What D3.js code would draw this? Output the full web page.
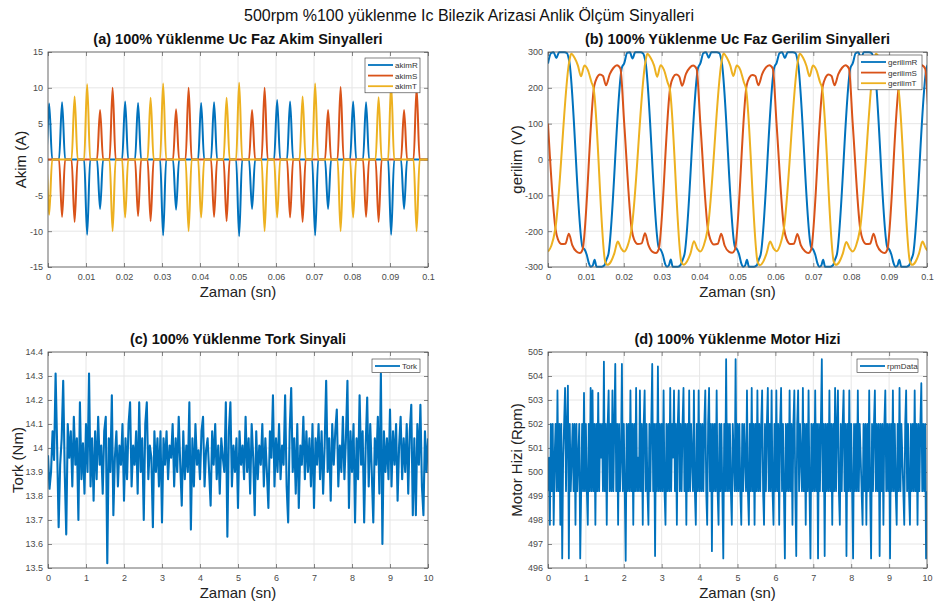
<!DOCTYPE html>
<html>
<head>
  <meta charset="utf-8">
  <style>
    body { margin: 0; background: #fff; }
    svg { font-family: "Liberation Sans", Arial, sans-serif; }
    .grid { stroke: #e6e6e6; stroke-width: 1; }
    .axis path.domain { display: none; }
    .axis line { stroke: #555; stroke-width: 0.7; }
    .axis text { fill: #4a4a4a; font-size: 9px; font-family: "Liberation Sans", Arial, sans-serif; }
    .frame { fill: none; stroke: #555; stroke-width: 0.8; }
    .ptitle { font-weight: bold; font-size: 14.5px; fill: #111; text-anchor: middle; }
    .alabel { font-size: 15px; fill: #222; text-anchor: middle; }
    .leg text { font-size: 8px; fill: #333; }
  </style>
</head>
<body>
<svg id="chart" width="938" height="613"></svg>
<script src="https://d3js.org/d3.v7.min.js"></script>
<script>
// ---- ticks / labels ----
var fastTicksX = [0, 10, 20, 30, 40, 50, 60, 70, 80, 90, 100];   // ms
var fastTickLabelsX = ["0", "0.01", "0.02", "0.03", "0.04", "0.05", "0.06", "0.07", "0.08", "0.09", "0.1"];
var akimTicksY = [-15, -10, -5, 0, 5, 10, 15];
var gerilimTicksY = [-300, -200, -100, 0, 100, 200, 300];
var slowTicksX = [0, 1, 2, 3, 4, 5, 6, 7, 8, 9, 10];
var slowTickLabelsX = ["0", "1", "2", "3", "4", "5", "6", "7", "8", "9", "10"];
var torkTicksY = [13.5, 13.6, 13.7, 13.8, 13.9, 14.0, 14.1, 14.2, 14.3, 14.4];
var torkTickLabelsY = ["13.5", "13.6", "13.7", "13.8", "13.9", "14", "14.1", "14.2", "14.3", "14.4"];
var rpmTicksY = [496, 497, 498, 499, 500, 501, 502, 503, 504, 505];

// ---- (a) current pulses: [time ms, peak A] ----
var akimR = [[0.3,7.8],[3.7,8.0],[10.3,-10.5],[13.7,-6.9],[20.3,8.1],[23.7,7.9],[30.3,-10.6],[33.7,-7.0],[40.3,7.9],[43.7,8.0],
  [50.3,-10.7],[53.7,-6.9],[60.3,8.3],[63.7,8.1],[70.3,-10.6],[73.7,-6.9],[80.3,8.1],[83.7,8.0],[90.3,-10.5],[93.7,-6.9]];
var akimS = [[3.7,-8.0],[7.0,-8.7],[13.7,6.9],[17.0,10.0],[23.7,-7.9],[27.0,-8.6],[33.7,7.0],[37.0,10.0],[43.7,-8.0],[47.0,-8.6],
  [53.7,6.9],[57.0,10.0],[63.7,-8.1],[67.0,-8.7],[73.7,6.9],[77.0,10.1],[83.7,-8.0],[87.0,-8.7],[93.7,6.9],[97.0,10.0]];
var akimT = [[0.3,-7.7],[7.0,8.8],[10.3,10.5],[17.0,-10.0],[20.3,-8.1],[27.0,8.6],[30.3,10.6],[37.0,-10.0],[40.3,-8.1],[47.0,8.6],
  [50.3,10.7],[57.0,-10.0],[60.3,-8.1],[67.0,8.8],[70.3,10.6],[77.0,-10.0],[80.3,-8.1],[87.0,8.7],[90.3,10.5],[97.0,-10.0]];

// ---- (b) phase voltages: [time ms, V] ----
var gerilimR = [[0.0,268],[0.8,297],[1.5,299],[2.2,283],[2.9,299],[4.3,299],[5.0,297],[5.6,275],[9.1,-244],[9.7,-252],[10.2,-265],[10.8,-290],[11.3,-299],[11.8,-296],[12.3,-280],[12.8,-299],[14.2,-299],[14.9,-295],[15.4,-280],[15.9,-266],[19.5,257],
  [20.1,268],[20.9,298],[21.6,299],[22.3,282],[23.0,299],[24.4,299],[25.1,296],[25.7,274],[29.2,-245],[29.8,-253],[30.3,-266],[30.9,-291],[31.4,-299],[31.9,-295],[32.4,-279],[32.9,-299],[34.3,-299],[35.0,-294],[35.5,-281],[36.0,-265],[39.6,256],
  [40.2,268],[41.0,297],[41.7,299],[42.4,284],[43.1,299],[44.5,299],[45.2,297],[45.8,275],[49.3,-243],[49.9,-251],[50.4,-264],[51.0,-290],[51.5,-299],[52.0,-296],[52.5,-280],[53.0,-299],[54.4,-299],[55.1,-295],[55.6,-280],[56.1,-266],[59.7,257],
  [60.3,269],[61.1,297],[61.8,299],[62.5,283],[63.2,299],[64.6,299],[65.3,297],[65.9,274],[69.4,-244],[70.0,-252],[70.5,-265],[71.1,-290],[71.6,-299],[72.1,-296],[72.6,-280],[73.1,-299],[74.5,-299],[75.2,-295],[75.7,-280],[76.2,-266],[79.8,256],
  [80.4,268],[81.2,297],[81.9,299],[82.6,283],[83.3,299],[84.7,299],[85.4,297],[86.0,275],[89.5,-244],[90.1,-252],[90.6,-265],[91.2,-290],[91.7,-299],[92.2,-296],[92.7,-280],[93.2,-299],[94.6,-299],[95.3,-295],[95.8,-280],[96.3,-266],[99.9,257],[100.5,268]];
var gerilimS = [[0.0,100],[2.0,-195],[2.6,-222],[3.6,-236],[4.6,-235],[5.5,-207],[6.4,-239],[7.5,-257],[8.4,-261],[9.1,-252],[12.2,206],[12.9,228],[13.7,237],[14.5,233],[15.3,207],[16.3,238],[17.3,256],[18.2,263],[19.1,254],
  [20.1,102],[22.1,-196],[22.7,-223],[23.7,-236],[24.7,-234],[25.6,-206],[26.5,-239],[27.6,-258],[28.5,-261],[29.2,-251],[32.3,205],[33.0,229],[33.8,237],[34.6,232],[35.4,206],[36.4,239],[37.4,256],[38.3,262],[39.2,253],
  [40.2,100],[42.2,-195],[42.8,-222],[43.8,-237],[44.8,-235],[45.7,-207],[46.6,-240],[47.7,-257],[48.6,-260],[49.3,-252],[52.4,206],[53.1,228],[53.9,236],[54.7,233],[55.5,207],[56.5,238],[57.5,257],[58.4,263],[59.3,254],
  [60.3,101],[62.3,-194],[62.9,-221],[63.9,-236],[64.9,-235],[65.8,-208],[66.7,-239],[67.8,-256],[68.7,-261],[69.4,-252],[72.5,205],[73.2,228],[74.0,237],[74.8,233],[75.6,207],[76.6,238],[77.6,256],[78.5,263],[79.4,254],
  [80.4,100],[82.4,-195],[83.0,-222],[84.0,-236],[85.0,-235],[85.9,-207],[86.8,-239],[87.9,-257],[88.8,-261],[89.5,-252],[92.6,206],[93.3,228],[94.1,237],[94.9,233],[95.7,207],[96.7,238],[97.7,256],[98.6,263],[99.5,254],[100.5,100]];
var gerilimT = [[0.0,-257],[0.9,-240],[1.9,-196],[5.6,273],[6.1,295],[7.0,284],[7.9,262],[8.7,232],[9.6,262],[10.5,250],[11.5,215],[12.0,200],[15.1,-285],[15.7,-294],[16.6,-285],[17.5,-262],[18.4,-229],[19.3,-248],
  [20.1,-257],[21.0,-241],[22.0,-197],[25.7,272],[26.2,295],[27.1,283],[28.0,262],[28.8,231],[29.7,263],[30.6,250],[31.6,214],[32.1,199],[35.2,-286],[35.8,-294],[36.7,-284],[37.6,-262],[38.5,-228],[39.4,-249],
  [40.2,-257],[41.1,-240],[42.1,-196],[45.8,273],[46.3,296],[47.2,284],[48.1,262],[48.9,233],[49.8,262],[50.7,251],[51.7,215],[52.2,200],[55.3,-285],[55.9,-295],[56.8,-285],[57.7,-261],[58.6,-229],[59.5,-248],
  [60.3,-256],[61.2,-240],[62.2,-195],[65.9,273],[66.4,295],[67.3,284],[68.2,261],[69.0,232],[69.9,262],[70.8,250],[71.8,215],[72.3,201],[75.4,-285],[76.0,-294],[76.9,-285],[77.8,-262],[78.7,-230],[79.6,-248],
  [80.4,-257],[81.3,-240],[82.3,-196],[86.0,273],[86.5,295],[87.4,284],[88.3,262],[89.1,232],[90.0,262],[90.9,250],[91.9,215],[92.4,200],[95.5,-285],[96.1,-294],[97.0,-285],[97.9,-262],[98.8,-229],[99.7,-248],[100.5,-257]];

// ---- (c) torque, one sample every 0.04 s ----
var torkStep = 0.04;
var tork = [
  13.97,13.83,13.90,14.07,13.95,14.31,14.01,13.67,13.93,14.04,14.28,13.90,13.64,14.10,13.96,14.07,13.84,14.13,13.93,14.04,13.70,14.19,13.87,14.02,13.81,
  14.10,13.90,14.31,13.84,14.04,13.78,14.07,13.87,14.13,13.93,14.01,13.81,14.07,14.13,13.52,14.04,13.90,14.22,13.72,13.96,14.07,13.84,14.01,13.93,14.10,
  13.78,14.04,13.87,14.10,14.19,13.84,14.01,13.93,14.07,13.81,14.19,13.90,14.04,13.70,14.10,14.19,13.87,14.01,13.96,13.67,14.07,13.90,14.04,13.84,14.07,
  13.69,14.04,13.93,14.07,13.87,14.01,13.96,14.10,13.84,14.04,13.90,14.13,13.93,13.76,14.07,13.87,14.01,13.90,14.19,13.66,14.04,13.84,14.10,13.93,13.99,
  13.87,14.07,14.13,13.84,13.99,14.04,13.90,13.76,14.07,13.93,14.10,13.87,14.01,13.81,14.04,13.96,13.90,14.19,13.63,14.07,14.19,13.84,14.01,13.90,14.04,
  13.75,14.07,13.93,14.01,13.87,14.13,13.90,14.04,13.81,14.10,13.96,13.72,14.07,13.87,14.01,13.93,14.10,13.84,14.04,13.90,13.75,14.07,13.96,14.22,13.84,
  14.04,13.90,14.10,13.87,14.01,13.93,14.22,13.84,13.69,14.07,14.25,13.90,14.04,13.81,14.10,13.75,14.01,13.93,14.13,13.87,14.07,13.90,14.04,13.84,14.10,
  13.75,14.04,13.93,14.10,13.87,14.07,13.81,14.01,14.28,13.90,14.04,13.78,14.10,13.93,14.07,14.16,13.84,14.01,13.90,14.13,13.87,14.04,14.28,13.75,14.07,
  13.90,14.10,13.69,14.04,13.87,14.22,13.93,14.07,13.69,14.01,14.21,13.84,14.10,13.90,13.69,14.04,13.93,14.13,13.81,14.31,13.60,14.07,13.90,14.04,13.87,
  14.16,13.84,14.07,13.93,14.10,13.78,14.01,14.13,13.87,14.04,13.90,14.10,13.81,14.07,14.18,13.72,14.04,13.72,14.10,13.93,14.18,13.84,13.72,14.07,13.90,
  14.04];

// ---- (d) motor speed, one sample every 0.025 s ----
var rpmStep = 0.025;
var rpmData = [
  499.2,500.6,497.8,502.0,499.2,502.0,497.8,500.6,502.0,499.2,503.4,499.2,502.0,497.8,502.0,496.4,500.6,502.0,503.5,499.2,502.0,503.6,496.4,502.0,499.2,500.6,502.0,499.2,502.0,497.8,502.0,499.2,500.6,502.0,496.4,499.2,502.0,499.2,503.3,499.2,
  502.0,499.2,497.8,502.0,499.2,503.5,499.2,503.4,499.2,502.0,497.8,502.0,499.2,503.3,499.2,502.0,500.6,502.0,499.2,504.6,499.2,502.0,497.8,502.0,503.4,499.2,502.0,499.2,503.4,499.2,502.0,504.5,499.2,502.0,497.8,502.0,499.2,500.6,504.5,499.2,
  502.0,499.2,496.3,502.0,499.2,502.0,499.2,503.4,499.2,502.0,497.8,502.0,499.2,503.5,499.2,500.6,499.2,503.4,499.2,502.0,497.8,502.0,503.4,499.2,502.0,499.2,497.8,502.0,499.2,502.0,504.5,499.2,502.0,496.5,502.0,499.2,504.4,499.2,502.0,499.2,
  502.0,499.2,503.4,499.2,497.8,502.0,499.2,502.0,499.2,503.5,499.2,502.0,500.6,503.4,499.2,502.0,497.8,502.0,503.4,499.2,502.0,499.2,502.0,503.5,499.2,502.0,497.8,502.0,499.2,503.4,499.2,502.0,500.6,499.2,503.4,499.2,497.8,502.0,499.2,503.4,
  499.2,502.0,499.2,502.0,499.2,502.0,503.4,499.2,497.8,502.0,503.5,499.2,502.0,496.7,502.0,499.2,502.0,499.2,503.4,499.2,497.8,502.0,499.2,502.0,499.2,496.4,502.0,499.2,504.7,499.2,502.0,499.2,502.0,499.2,497.8,502.0,500.6,499.2,504.7,499.2,
  502.0,499.2,502.0,499.2,497.8,502.0,499.2,502.0,500.6,499.2,503.4,499.2,497.8,502.0,499.2,503.5,499.2,502.0,497.8,502.0,499.2,503.4,499.2,502.0,499.2,502.0,503.4,499.2,497.8,502.0,499.2,502.0,503.5,499.2,502.0,499.2,503.4,499.2,497.8,502.0,
  499.2,503.4,499.2,502.0,497.8,502.0,503.5,499.2,502.0,499.2,496.4,502.0,499.2,502.0,499.2,503.4,499.2,502.0,497.8,502.0,503.4,499.2,496.5,502.0,503.4,499.2,502.0,500.6,499.2,503.5,499.2,502.0,497.8,502.0,499.2,503.4,499.2,496.4,502.0,499.2,
  502.0,499.2,503.4,499.2,502.0,496.4,502.0,499.2,502.0,504.7,499.2,502.0,496.5,502.0,499.2,502.0,499.2,503.4,499.2,502.0,497.8,502.0,499.2,503.5,499.2,502.0,503.4,499.2,497.8,502.0,499.2,502.0,503.4,499.2,502.0,496.5,502.0,499.2,503.4,499.2,
  502.0,499.2,496.4,502.0,499.2,502.0,499.2,503.4,499.2,502.0,500.6,499.2,497.8,502.0,499.2,502.0,497.8,502.0,499.2,503.4,499.2,496.4,502.0,499.2,502.0,503.4,499.2,502.0,499.2,502.0,496.5,502.0,499.2,502.0,497.8,502.0,503.4,499.2,502.0,499.2,
  502.0,496.4,502.0,499.2,503.4,499.2,502.0,499.2,497.8,502.0,499.2,503.5,499.2,502.0,500.6,499.2,497.8,502.0,503.4,499.2,502.0,499.2,497.8,502.0,499.2,502.0,499.2,503.4,499.2,502.0,497.8,502.0,499.2,502.0,503.7,499.2,502.0,499.2,502.0,496.4,
  499.2];

var colR = "#0072bd", colS = "#d95319", colT = "#edb120";
var pulseHalfWidth = 0.8;   // ms, shape of a current pulse

var svg = d3.select("#chart");

function makePanel(p) {
  var x = d3.scaleLinear().domain(p.xDomain).range([p.left, p.right]);
  var y = d3.scaleLinear().domain(p.yDomain).range([p.bottom, p.top]);
  var g = svg.append("g");

  g.append("rect").attr("x", p.left).attr("y", p.top)
    .attr("width", p.right - p.left).attr("height", p.bottom - p.top).attr("fill", "#fff");

  g.append("g").selectAll("line").data(p.xTicks).join("line").attr("class", "grid")
    .attr("x1", d => x(d)).attr("x2", d => x(d)).attr("y1", p.top).attr("y2", p.bottom);
  g.append("g").selectAll("line").data(p.yTicks).join("line").attr("class", "grid")
    .attr("y1", d => y(d)).attr("y2", d => y(d)).attr("x1", p.left).attr("x2", p.right);

  g.append("g").attr("class", "axis").attr("transform", "translate(0," + p.bottom + ")")
    .call(d3.axisBottom(x).tickValues(p.xTicks).tickFormat((d, i) => p.xLabels[i])
      .tickSizeInner(-4).tickSizeOuter(0).tickPadding(7));
  g.append("g").attr("class", "axis").attr("transform", "translate(0," + p.top + ")")
    .call(d3.axisTop(x).tickValues(p.xTicks).tickFormat("").tickSizeInner(-4).tickSizeOuter(0));
  g.append("g").attr("class", "axis").attr("transform", "translate(" + p.left + ",0)")
    .call(d3.axisLeft(y).tickValues(p.yTicks).tickFormat((d, i) => p.yLabels[i])
      .tickSizeInner(-4).tickSizeOuter(0).tickPadding(5));
  g.append("g").attr("class", "axis").attr("transform", "translate(" + p.right + ",0)")
    .call(d3.axisRight(y).tickValues(p.yTicks).tickFormat("").tickSizeInner(-4).tickSizeOuter(0));

  svg.append("clipPath").attr("id", "clip-" + p.id).append("rect")
    .attr("x", p.left).attr("y", p.top - 1).attr("width", p.right - p.left).attr("height", p.bottom - p.top + 2);
  var plot = svg.append("g").attr("clip-path", "url(#clip-" + p.id + ")");

  svg.append("rect").attr("class", "frame").attr("x", p.left).attr("y", p.top)
    .attr("width", p.right - p.left).attr("height", p.bottom - p.top);

  svg.append("text").attr("class", "ptitle").attr("x", (p.left + p.right) / 2).attr("y", p.top - 8).text(p.title);
  svg.append("text").attr("class", "alabel").attr("x", (p.left + p.right) / 2).attr("y", p.bottom + 30).text(p.xTitle);
  svg.append("text").attr("class", "alabel")
    .attr("transform", "translate(" + p.yTitleX + "," + (p.top + p.bottom) / 2 + ") rotate(-90)").text(p.yTitle);

  return { x: x, y: y, plot: plot };
}

function legend(x0, y0, w, entries) {
  var g = svg.append("g").attr("class", "leg");
  var h = entries.length * 10.6 + 3;
  g.append("rect").attr("x", x0).attr("y", y0).attr("width", w).attr("height", h)
    .attr("fill", "#fff").attr("stroke", "#333").attr("stroke-width", 0.6);
  entries.forEach(function (e, i) {
    var yy = y0 + 7 + i * 10.6;
    g.append("line").attr("x1", x0 + 3).attr("x2", x0 + 28).attr("y1", yy).attr("y2", yy)
      .attr("stroke", e.color).attr("stroke-width", 1.8);
    g.append("text").attr("x", x0 + 30).attr("y", yy + 3).text(e.name);
  });
}

// main title
svg.append("text").attr("x", 469).attr("y", 21).attr("text-anchor", "middle")
  .attr("font-size", 16).attr("fill", "#111")
  .text("500rpm %100 yüklenme Ic Bilezik Arizasi Anlik Ölçüm Sinyalleri");

// (a)
var pa = makePanel({ id: "a", left: 48, right: 428, top: 52, bottom: 267,
  xDomain: [0, 100], yDomain: [-15, 15], xTicks: fastTicksX, xLabels: fastTickLabelsX,
  yTicks: akimTicksY, yLabels: akimTicksY.map(String),
  title: "(a) 100% Yüklenme Uc Faz Akim Sinyalleri", xTitle: "Zaman (sn)", yTitle: "Akim (A)", yTitleX: 26 });
var pulseLine = d3.line().x(d => pa.x(d[0])).y(d => pa.y(d[1])).curve(d3.curveMonotoneX);
function pulsePath(pulses) {
  var pts = [[-2, 0]];
  pulses.forEach(function (q) {
    pts.push([q[0] - pulseHalfWidth, 0], [q[0], q[1]], [q[0] + pulseHalfWidth, 0]);
  });
  pts.push([102, 0]);
  return pulseLine(pts);
}
[[akimR, colR], [akimS, colS], [akimT, colT]].forEach(function (s) {
  pa.plot.append("path").attr("d", pulsePath(s[0])).attr("fill", "none")
    .attr("stroke", s[1]).attr("stroke-width", 2).attr("stroke-linejoin", "round");
});
legend(365, 58, 55, [{ name: "akimR", color: colR }, { name: "akimS", color: colS }, { name: "akimT", color: colT }]);

// (b)
var pb = makePanel({ id: "b", left: 548, right: 927, top: 52, bottom: 267,
  xDomain: [0, 100], yDomain: [-300, 300], xTicks: fastTicksX, xLabels: fastTickLabelsX,
  yTicks: gerilimTicksY, yLabels: gerilimTicksY.map(String),
  title: "(b) 100% Yüklenme Uc Faz Gerilim Sinyalleri", xTitle: "Zaman (sn)", yTitle: "gerilim (V)", yTitleX: 522 });
var vLine = d3.line().x(d => pb.x(d[0])).y(d => pb.y(d[1])).curve(d3.curveMonotoneX);
[[gerilimR, colR], [gerilimS, colS], [gerilimT, colT]].forEach(function (s) {
  pb.plot.append("path").attr("d", vLine(s[0])).attr("fill", "none")
    .attr("stroke", s[1]).attr("stroke-width", 2).attr("stroke-linejoin", "round");
});
legend(858, 55, 64, [{ name: "gerilimR", color: colR }, { name: "gerilimS", color: colS }, { name: "gerilimT", color: colT }]);

// (c)
var pc = makePanel({ id: "c", left: 48, right: 428, top: 352, bottom: 568,
  xDomain: [0, 10], yDomain: [13.5, 14.4], xTicks: slowTicksX, xLabels: slowTickLabelsX,
  yTicks: torkTicksY, yLabels: torkTickLabelsY,
  title: "(c) 100% Yüklenme Tork Sinyali", xTitle: "Zaman (sn)", yTitle: "Tork (Nm)", yTitleX: 23 });
pc.plot.append("path")
  .attr("d", d3.line().x((d, i) => pc.x(i * torkStep)).y(d => pc.y(d))(tork))
  .attr("fill", "none").attr("stroke", colR).attr("stroke-width", 2.1).attr("stroke-linejoin", "round");
legend(372, 359, 48, [{ name: "Tork", color: colR }]);

// (d)
var pd = makePanel({ id: "d", left: 548, right: 927, top: 352, bottom: 568,
  xDomain: [0, 10], yDomain: [496, 505], xTicks: slowTicksX, xLabels: slowTickLabelsX,
  yTicks: rpmTicksY, yLabels: rpmTicksY.map(String),
  title: "(d) 100% Yüklenme Motor Hizi", xTitle: "Zaman (sn)", yTitle: "Motor Hizi (Rpm)", yTitleX: 522 });
pd.plot.append("path")
  .attr("d", d3.line().x((d, i) => pd.x(i * rpmStep)).y(d => pd.y(d))(rpmData))
  .attr("fill", "none").attr("stroke", colR).attr("stroke-width", 1.8).attr("stroke-linejoin", "round");
legend(857, 359, 61, [{ name: "rpmData", color: colR }]);
</script>
</body>
</html>
